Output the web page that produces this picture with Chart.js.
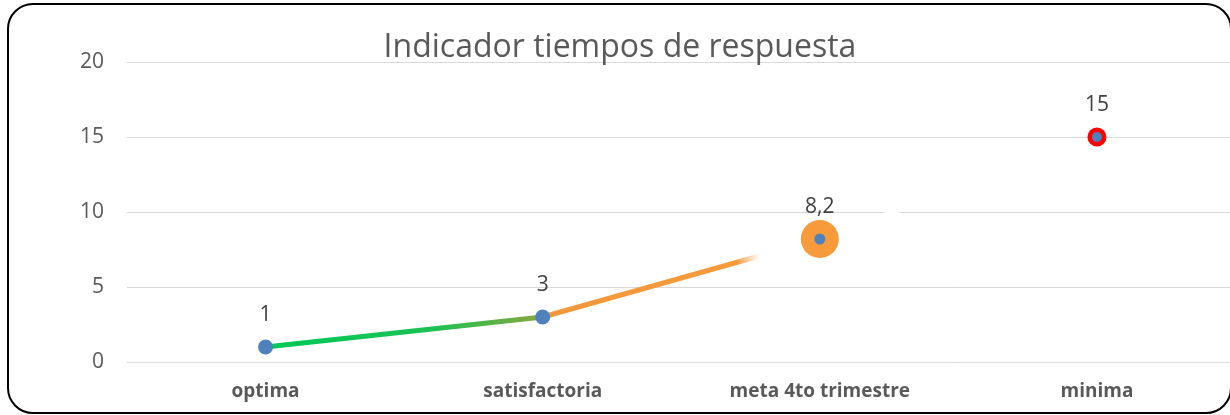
<!DOCTYPE html>
<html lang="es">
<head>
    <meta charset="UTF-8">
    <title>Indicador tiempos de respuesta</title>
    <script src="https://cdn.jsdelivr.net/npm/chart.js"></script>
    <style>
        body {
            margin: 0;
            background: #fff;
            overflow: hidden;
        }
        .marco {
            position: absolute;
            left: 7px;
            top: 3px;
            width: 1221px;
            height: 407px;
            border: 2px solid #000;
            border-radius: 26px;
            overflow: hidden;
            background: #fff;
        }
        canvas { display: block; }
    </style>
</head>
<body>
    <div class="marco">
        <canvas id="grafico" width="1236" height="407"></canvas>
    </div>
    <script>
        // datos
        const categorias = ['optima', 'satisfactoria', 'meta 4to trimestre', 'minima'];
        const valores = [1, 3, 8.2, 15];
        const ticksY = [0, 5, 10, 15, 20];
        const tituloTexto = 'Indicador tiempos de respuesta';

        const fuente = "'Open Sans', Lato, sans-serif";
        const canvas = document.getElementById('grafico');
        const c2d = canvas.getContext('2d');

        // colores de cada tramo de la linea
        function colorTramo(ctx) {
            const p0 = ctx.p0, p1 = ctx.p1;
            const g = c2d.createLinearGradient(p0.x, p0.y, p1.x, p1.y);
            if (ctx.p0DataIndex === 0) {
                g.addColorStop(0, '#00c957');
                g.addColorStop(0.6, '#1cc255');
                g.addColorStop(1, '#8aa63c');
                return g;
            }
            if (ctx.p0DataIndex === 1) {
                g.addColorStop(0, '#f2983a');
                g.addColorStop(0.7, '#f79a3b');
                g.addColorStop(0.78, 'rgba(247,154,59,0)');
                g.addColorStop(1, 'rgba(247,154,59,0)');
                return g;
            }
            return '#ffffff';
        }

        // titulo y etiquetas de datos
        const extras = {
            id: 'extras',
            afterDatasetsDraw(chart) {
                const ctx = chart.ctx;
                ctx.save();
                ctx.fillStyle = '#595959';
                ctx.font = '32px ' + fuente;
                ctx.textAlign = 'center';
                ctx.textBaseline = 'middle';
                ctx.fillText(tituloTexto, 611, 43);

                const meta = chart.getDatasetMeta(2);
                ctx.fillStyle = '#404040';
                ctx.font = '21px ' + fuente;
                meta.data.forEach((pt, i) => {
                    const txt = String(valores[i]).replace('.', ',');
                    ctx.fillText(txt, pt.x, pt.y - 32);
                });
                ctx.restore();
            }
        };

        new Chart(canvas, {
            type: 'line',
            data: {
                labels: categorias,
                datasets: [
                    {
                        data: valores,
                        borderWidth: 5,
                        pointRadius: 0,
                        fill: false,
                        tension: 0,
                        segment: { borderColor: colorTramo },
                        order: 3
                    },
                    {
                        data: valores,
                        showLine: false,
                        pointRadius: [0, 0, 19, 9.5],
                        pointBorderWidth: 0,
                        pointBackgroundColor: ['rgba(0,0,0,0)', 'rgba(0,0,0,0)', '#f79a3b', '#ff0000'],
                        order: 2
                    },
                    {
                        data: valores,
                        showLine: false,
                        pointRadius: [7.5, 7.5, 5.5, 5],
                        pointBorderWidth: 0,
                        pointBackgroundColor: '#4f81bd',
                        order: 1
                    }
                ]
            },
            options: {
                responsive: false,
                animation: false,
                layout: { padding: { top: 57, right: 0, bottom: 0, left: 0 } },
                plugins: {
                    legend: { display: false },
                    tooltip: { enabled: false }
                },
                scales: {
                    x: {
                        offset: true,
                        grid: { display: false, drawTicks: false },
                        border: { display: false },
                        ticks: {
                            color: '#595959',
                            padding: 18,
                            font: { family: fuente, size: 19, weight: 'bold' }
                        },
                        afterFit: s => { s.height = 50; }
                    },
                    y: {
                        min: 0,
                        max: 20,
                        afterBuildTicks: s => { s.ticks = ticksY.map(v => ({ value: v })); },
                        grid: { color: '#d9d9d9', lineWidth: 1, drawTicks: false },
                        border: { display: false },
                        ticks: {
                            color: '#595959',
                            padding: 23,
                            font: { family: fuente, size: 21 }
                        },
                        afterFit: s => { s.width = 118; }
                    }
                }
            },
            plugins: [extras]
        });
    </script>
</body>
</html>
